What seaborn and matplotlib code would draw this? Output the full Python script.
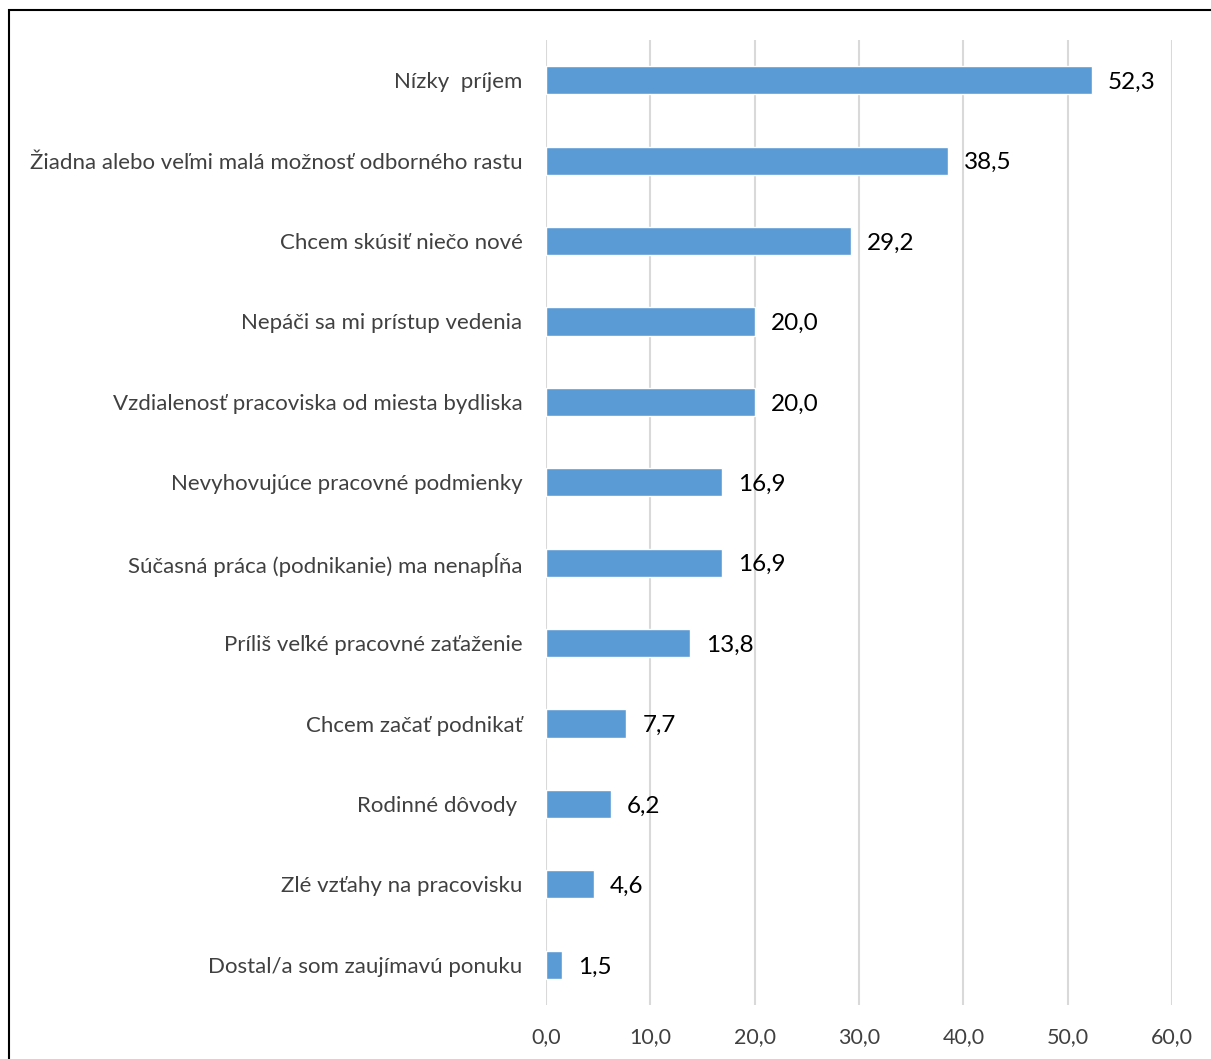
import matplotlib
matplotlib.use("Agg")
import matplotlib.pyplot as plt
import pandas as pd
import seaborn as sns
from matplotlib.patches import Rectangle

reasons = [
    "Nízky  príjem",
    "Žiadna alebo veľmi malá možnosť odborného rastu",
    "Chcem skúsiť niečo nové",
    "Nepáči sa mi prístup vedenia",
    "Vzdialenosť pracoviska od miesta bydliska",
    "Nevyhovujúce pracovné podmienky",
    "Súčasná práca (podnikanie) ma nenapĺňa",
    "Príliš veľké pracovné zaťaženie",
    "Chcem začať podnikať",
    "Rodinné dôvody ",
    "Zlé vzťahy na pracovisku",
    "Dostal/a som zaujímavú ponuku",
]
percent = [52.3, 38.5, 29.2, 20.0, 20.0, 16.9, 16.9, 13.8, 7.7, 6.2, 4.6, 1.5]
x_ticks = [0, 10, 20, 30, 40, 50, 60]

sns.set_theme(style="white")
plt.rcParams["font.family"] = ["Lato", "DejaVu Sans"]

df = pd.DataFrame({"reason": reasons, "percent": percent})

fig = plt.figure(figsize=(12.11, 10.59), dpi=100)
ax = fig.add_axes([546 / 1211, 1 - 1005 / 1059, (1172 - 546) / 1211, (1005 - 40) / 1059])

sns.barplot(data=df, x="percent", y="reason", color="#5B9BD5", saturation=1,
            width=0.35, orient="h", ax=ax, zorder=3)

ax.set_xlim(0, 60)
ax.set_xticks(x_ticks)
ax.set_xticklabels([f"{t:.1f}".replace(".", ",") for t in x_ticks])
ax.grid(axis="x", color="#D9D9D9", linewidth=1.5, zorder=0)
ax.grid(axis="y", visible=False)
for s in ax.spines.values():
    s.set_visible(False)
ax.tick_params(axis="both", length=0)
ax.tick_params(axis="y", pad=17, labelsize=16, labelcolor="#404040")
ax.tick_params(axis="x", pad=16, labelsize=15.5, labelcolor="#404040")
ax.set_xlabel("")
ax.set_ylabel("")

# value labels next to each bar
for bar, v in zip(ax.patches, percent):
    ax.annotate(f"{v:.1f}".replace(".", ","),
                (bar.get_width(), bar.get_y() + bar.get_height() / 2),
                xytext=(11.5, -1.5), textcoords="offset points",
                ha="left", va="center", fontsize=17.5, color="black")

# chart frame, partly cut off at right and bottom
fig.patches.append(Rectangle((9 / 1211, -0.05), 1.2, 1 - 10 / 1059 + 0.05,
                             transform=fig.transFigure, fill=False,
                             edgecolor="black", linewidth=1.5))

fig.savefig("out.png", dpi=100)
